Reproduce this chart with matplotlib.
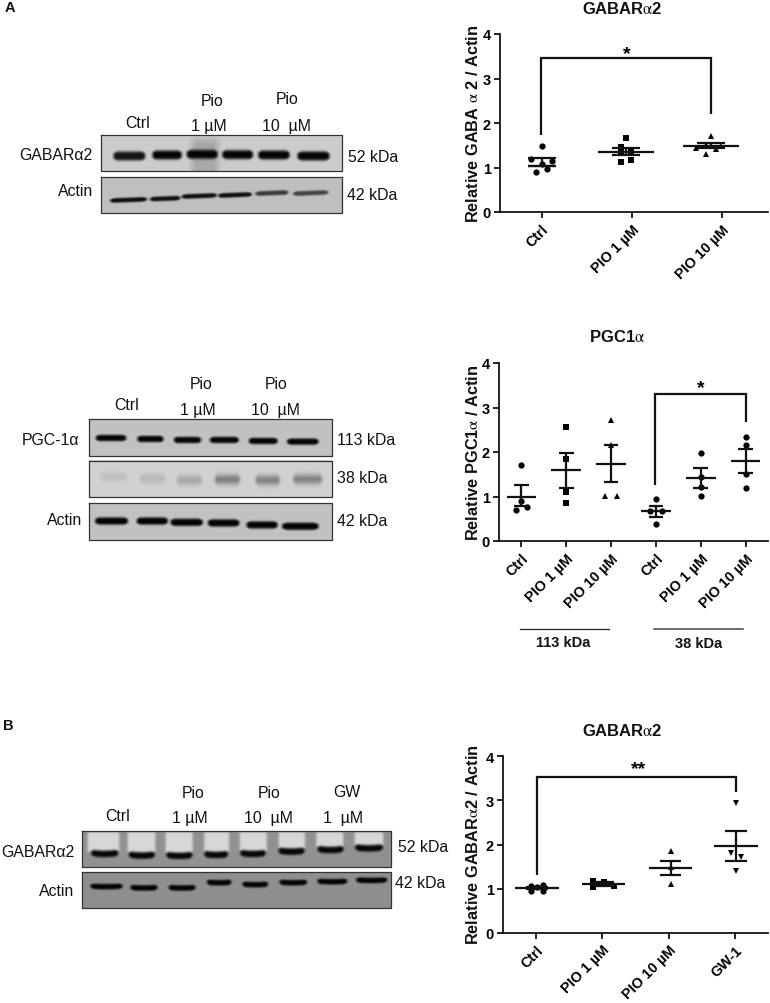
import numpy as np
import matplotlib
matplotlib.use("Agg")
import matplotlib.pyplot as plt

plt.rcParams['font.family'] = ['Liberation Sans', 'DejaVu Sans']
plt.rcParams['mathtext.fontset'] = 'stix'
plt.rcParams['mathtext.default'] = 'regular'

W, H = 770, 1004

# ---------- chart data ----------
labels_a1 = ["Ctrl", "PIO 1 µM", "PIO 10 µM"]
a1_values = [[1.48, 1.20, 1.14, 1.08, 0.96, 0.89],
             [1.67, 1.46, 1.38, 1.33, 1.16, 1.12],
             [1.71, 1.51, 1.49, 1.43, 1.41, 1.31]]
a1_offsets = [[0, -0.118, 0.11, 0, 0.055, -0.063],
              [0, -0.055, 0.062, -0.055, 0.062, -0.055],
              [0, -0.052, 0.118, -0.162, 0.06, -0.052]]
a1_means = [1.04, 1.35, 1.49]
a1_upper = [1.22, 1.44, 1.55]
a1_lower = [1.04, 1.27, 1.44]
a1_centers = [0.0, 0.93, 1.87]

labels_a2 = ["Ctrl", "PIO 1 µM", "PIO 10 µM", "Ctrl", "PIO 1 µM", "PIO 10 µM"]
a2_values = [[1.70, 0.90, 0.755, 0.69],
             [2.565, 1.85, 1.09, 0.85],
             [2.71, 2.15, 1.02, 1.02],
             [0.935, 0.67, 0.67, 0.38],
             [1.98, 1.435, 1.21, 1.02],
             [2.34, 2.15, 1.495, 1.19]]
a2_offsets = [[0, 0, 0.13, -0.12],
              [0, 0, 0, 0],
              [0, 0, -0.13, 0.13],
              [0, -0.13, 0.13, 0],
              [0, 0, 0, 0],
              [0, 0, 0, 0]]
a2_means = [1.00, 1.59, 1.735, 0.67, 1.41, 1.80]
a2_upper = [1.25, 1.98, 2.16, 0.79, 1.63, 2.07]
a2_lower = [0.78, 1.20, 1.32, 0.55, 1.20, 1.525]
a2_centers = [0, 1, 2, 3, 4, 5]

labels_b = ["Ctrl", "PIO 1 µM", "PIO 10 µM", "GW-1"]
b_values = [[1.07, 0.95, 1.08, 0.95, 1.03],
            [1.18, 1.03, 1.14, 1.07],
            [1.86, 1.50, 1.11],
            [2.93, 1.81, 1.71, 1.40]]
b_offsets = [[-0.09, -0.09, 0.09, 0.09, 0],
             [-0.155, -0.155, 0, 0.155],
             [0, 0, 0],
             [0, -0.08, 0.08, 0]]
b_means = [1.01, 1.10, 1.47, 1.96]
b_upper = [1.04, 1.14, 1.63, 2.30]
b_lower = [0.98, 1.07, 1.31, 1.625]
b_centers = [0.02, 1.02, 2.03, 3.02]

fig = plt.figure(figsize=(W / 100, H / 100), dpi=100)


def px_axes(x0, y_top, x1, y_bot, **kw):
    return fig.add_axes([x0 / W, 1 - y_bot / H, (x1 - x0) / W, (y_bot - y_top) / H], **kw)


def dot_plot(box, xlim, labels, values, offsets, means, upper, lower, centers,
             markers, mean_hw, cap_hw, ms):
    ax = px_axes(*box)
    ax.patch.set_alpha(0)
    ax.set_xlim(*xlim)
    ax.set_ylim(0, 4)
    for s in ("top", "right"):
        ax.spines[s].set_visible(False)
    for s in ("left", "bottom"):
        ax.spines[s].set_linewidth(1.2)
    ax.set_yticks([0, 1, 2, 3, 4])
    ax.set_xticks(range(len(labels)))
    ax.set_xticklabels(labels, rotation=45, ha="right", rotation_mode="anchor",
                       fontweight="bold", fontsize=10.4)
    ax.tick_params(axis="x", length=4.5, width=1.2, pad=2.5)
    ax.tick_params(axis="y", length=4.5, width=1.2, pad=2, labelsize=10.5)
    for t in ax.get_yticklabels():
        t.set_fontweight("bold")
    for i, c in enumerate(centers):
        ax.plot(c + np.array(offsets[i]), values[i], ls="none", marker=markers[i],
                ms=ms, color="black", mew=0, zorder=3, clip_on=False)
        ax.hlines(means[i], c - mean_hw[i], c + mean_hw[i], color="#111111", lw=1.6, zorder=4)
        ax.hlines([upper[i], lower[i]], c - cap_hw, c + cap_hw, color="#111111", lw=1.6, zorder=4)
        ax.vlines(c, lower[i], upper[i], color="#111111", lw=1.6, zorder=4)
    return ax


def bracket(ax, x0, x1, y_left, y_top, y_right, star, star_x, star_y):
    ax.plot([x0, x0, x1, x1], [y_left, y_top, y_top, y_right], color="#111111", lw=1.6,
            solid_joinstyle="miter", solid_capstyle="butt")
    ax.text(star_x, star_y, star, ha="center", va="center", fontsize=14, fontweight="bold")


# Panel A top chart
ax1 = dot_plot((500, 35, 768, 213), (-0.46, 2.505), labels_a1, a1_values, a1_offsets,
               a1_means, a1_upper, a1_lower, a1_centers, ["o", "s", "^"],
               [0.155, 0.31, 0.31], 0.155, 4.5)
bracket(ax1, -0.01, 1.87, 1.73, 3.47, 2.2, "*", 0.94, 3.57)

# Panel A bottom chart
ax2 = dot_plot((499, 364, 768, 542), (-0.5, 5.5), labels_a2, a2_values, a2_offsets,
               a2_means, a2_upper, a2_lower, a2_centers, ["o", "s", "^", "o", "o", "o"],
               [0.33] * 6, 0.165, 4.5)
bracket(ax2, 2.98, 5.0, 1.26, 3.3, 2.67, "*", 4.0, 3.45)

# Panel B chart
ax3 = dot_plot((502.7, 757.3, 768, 933.7), (-0.5, 3.5), labels_b, b_values, b_offsets,
               b_means, b_upper, b_lower, b_centers, ["o", "s", "^", "v"],
               [0.33] * 4, 0.165, 4.5)
bracket(ax3, 0.02, 3.02, 1.31, 3.52, 3.2, "**", 1.55, 3.72)

# ---------- overlay in pixel coordinates ----------
ov = fig.add_axes([0, 0, 1, 1], zorder=-1)
ov.axis("off")


def T(x, y, s, ha="center", size=11.4, weight="normal", **kw):
    ov.text(x, y, s, ha=ha, va="center", fontsize=size, fontweight=weight, color="#111111", **kw)


def blur(img, sigma):
    r = int(3 * sigma) + 1
    k = np.exp(-0.5 * (np.arange(-r, r + 1) / sigma) ** 2)
    k /= k.sum()
    pad = np.pad(img, r, mode="edge")
    pad = np.apply_along_axis(lambda v: np.convolve(v, k, mode="same"), 0, pad)
    pad = np.apply_along_axis(lambda v: np.convolve(v, k, mode="same"), 1, pad)
    return pad[r:-r, r:-r]


# each band: x start, x end, y centre, half thickness, darkness
def blot(x0, x1, y0, y1, bg, bands, halos=(), slope=0.0, curve=0.0, sharp=4, sigma=1.2, halo_edge=2.5):
    nx, ny = int((x1 - x0) * 2), int((y1 - y0) * 2)
    xx = np.linspace(x0, x1, nx)[None, :]
    yy = np.linspace(y0, y1, ny)[:, None]
    img = np.full((ny, nx), float(bg))
    for (a, b, c, t, v) in halos:
        mid, hw = (a + b) / 2, (b - a) / 2
        px = np.clip((hw - np.abs(xx - mid)) / max(3, halo_edge), 0, 1)
        top = c - t
        bot = c + t - curve * ((xx - mid) / hw) ** 2
        py = np.clip((yy - top) / halo_edge, 0, 1) * np.clip((bot - yy) / 2, 0, 1)
        img += (v - bg) * px * py
    for (a, b, c, t, d) in bands:
        mid, hw = (a + b) / 2, (b - a) / 2
        u = (xx - mid) / hw
        px = np.clip((1 - np.abs(u)) * hw / 3.5, 0, 1)
        cy = c + slope * (xx - mid) - curve * u ** 2
        tt = t * (0.55 + 0.45 * np.clip((1 - np.abs(u)) * 3, 0, 1))
        py = np.exp(-np.abs((yy - cy) / tt) ** sharp)
        img = img * (1 - d * px * py)
    img = blur(img, sigma)
    ov.imshow(img, extent=(x0, x1, y1, y0), cmap="gray", vmin=0, vmax=1,
              aspect="auto", interpolation="bilinear")
    ov.plot([x0, x1, x1, x0, x0], [y0, y0, y1, y1, y0], color="#333333", lw=0.9)


def zb(ox, oy, items, thick, dark):
    out = []
    for it in items:
        a, b, c = it[:3]
        d = it[3] if len(it) > 3 else dark
        out.append((ox + a / 3, ox + b / 3, oy + c / 3, thick, d))
    return out


# A top blot
blot(101, 342, 136, 172, 0.80, zb(0, 80, [(335, 440, 231, 0.9), (452, 550, 228), (555, 658, 226),
                                          (662, 764, 227), (770, 874, 228), (888, 994, 231)], 4.8, 0.98),
     halos=[(188, 222, 160, 24, 0.66)], sigma=1.0, halo_edge=8)
blot(101, 342, 178, 214, 0.75, zb(0, 80, [(325, 445, 363), (445, 545, 359), (540, 655, 351),
                                          (650, 760, 348), (762, 870, 342, 0.7), (875, 990, 342, 0.65)], 2.5, 0.92),
     slope=-0.04, sigma=0.8)
# A bottom blots
blot(89, 332, 420, 457, 0.76, zb(0, 370, [(282, 383, 207), (407, 495, 210), (517, 608, 213),
                                          (625, 721, 213), (742, 838, 216), (857, 961, 218)], 3.4, 0.97), sigma=0.8)
blot(89, 332, 462, 498, 0.82, zb(0, 370, [(295, 385, 325, 0.08), (415, 500, 330, 0.12), (525, 610, 335, 0.2),
                                          (640, 725, 333, 0.4), (762, 845, 335, 0.38), (875, 972, 332, 0.38)], 5, 0.3),
     sharp=2, sigma=1.4)
blot(89, 332, 504, 541, 0.76, zb(0, 370, [(280, 388, 456), (405, 508, 456), (507, 613, 460),
                                          (619, 723, 462), (735, 838, 468), (842, 961, 472)], 3.9, 0.98), sigma=0.8)
# B blots
lanes_b = [(258, 362, 405), (378, 470, 410), (492, 582, 410), (608, 692, 408),
           (715, 805, 405), (832, 920, 398), (945, 1035, 393), (1060, 1155, 388)]
blot(82, 391, 832, 868, 0.57, zb(0, 720, [(268, 359, 405), (381, 469, 410), (494, 582, 411), (608, 689, 408),
                                          (716, 802, 405), (831, 919, 398), (948, 1036, 393), (1061, 1154, 388)], 3.6, 0.95),
     halos=[(a / 3, b / 3, 720 + (335 + c) / 6, (c - 335) / 6, 0.84) for a, b, c in lanes_b],
     curve=1.5, sigma=1.1)
blot(82, 391, 873, 909, 0.56, zb(0, 720, [(266, 372, 503), (386, 477, 507), (501, 591, 507), (616, 699, 491),
                                          (723, 809, 497), (834, 926, 491), (948, 1047, 488), (1064, 1167, 484)], 3.0, 0.97),
     curve=0.8, sigma=0.8)

T(5, 8, "A", ha="left", size=10.5, weight="bold")
T(3, 726, "B", ha="left", size=10.5, weight="bold")

# blot labels
for x, y, s in [(138, 124, "Ctrl"), (212, 101, "Pio"), (209, 127, "1 µM"), (287, 100, "Pio"), (286, 126, "10  µM"),
                (127, 406, "Ctrl"), (201, 385, "Pio"), (198, 411, "1 µM"), (276, 385, "Pio"), (275, 411, "10  µM"),
                (118, 817, "Ctrl"), (193, 794, "Pio"), (190, 819, "1 µM"), (269, 794, "Pio"), (268, 819, "10  µM"),
                (347, 793, "GW"), (343, 819, "1  µM")]:
    T(x, y, s)
for x, y, s in [(93, 156, "GABARα2"), (93, 192, "Actin"), (79, 441, "PGC-1α"), (82, 521, "Actin"),
                (74, 853, "GABARα2"), (74, 892, "Actin")]:
    T(x, y, s, ha="right")
for x, y, s in [(348, 157, "52 kDa"), (347, 195, "42 kDa"), (337, 441, "113 kDa"), (337, 479, "38 kDa"),
                (337, 522, "42 kDa"), (398, 848, "52 kDa"), (395, 884, "42 kDa")]:
    T(x, y, s, ha="left")

# titles
AL = "$\\mathrm{\\alpha}$"
T(622, 9, "GABAR" + AL + "2", size=12, weight="bold")
T(617, 337, "PGC1" + AL, size=12, weight="bold")
T(622, 731, "GABAR" + AL + "2", size=12, weight="bold")

# y labels
T(473, 124, "Relative GABA " + AL + " 2 / Actin", size=11.8, weight="bold", rotation=90)
T(473, 453, "Relative PGC1" + AL + " / Actin", size=11.8, weight="bold", rotation=90)
T(473, 845, "Relative GABAR" + AL + "2 / Actin", size=11.8, weight="bold", rotation=90)

# group lines under chart 2
ov.plot([519.5, 609], [629.5, 629.5], color="#222222", lw=0.9)
ov.plot([654, 743], [629.5, 629.5], color="#444444", lw=1.1)
T(563, 643, "113 kDa", size=10.5, weight="bold")
T(699, 644, "38 kDa", size=10.5, weight="bold")

ov.set_xlim(0, W)
ov.set_ylim(H, 0)

fig.savefig("out.png", dpi=100)
